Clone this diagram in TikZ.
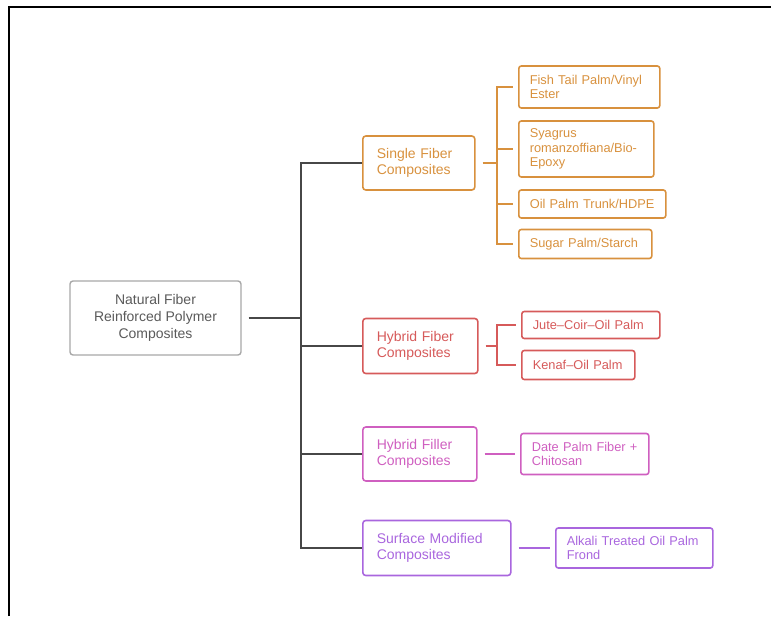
\documentclass[tikz,border=0pt]{standalone}
\usepackage{fontspec}
\setmainfont{Liberation Sans}
\usetikzlibrary{positioning}

\definecolor{sfcol}{HTML}{D8913E}
\definecolor{hfcol}{HTML}{D65A5A}
\definecolor{flcol}{HTML}{CF5FC0}
\definecolor{smcol}{HTML}{A966DE}
\definecolor{rootcol}{HTML}{A8A8A8}
\definecolor{roottxt}{HTML}{5A5A5A}
\definecolor{trunkcol}{HTML}{474747}

\begin{document}
\begin{tikzpicture}[x=1pt, y=-1pt,
      % Node styles
      root box/.style={
          draw=rootcol, text=roottxt, line width=1.4pt, rounded corners=3pt,
          align=center, minimum width=171pt, minimum height=74pt, inner sep=0pt,
          font=\fontsize{14}{17}\selectfont,
        },
      group box/.style={
          draw=#1, text=#1, line width=1.6pt, rounded corners=3pt,
          align=left, anchor=west, inner xsep=14pt, inner ysep=0pt,
          font=\fontsize{14}{16.5}\selectfont,
        },
      leaf box/.style={
          draw=#1, text=#1, line width=1.6pt, rounded corners=2.5pt,
          align=left, anchor=west, inner xsep=11pt, inner ysep=0pt,
          font=\fontsize{12.8}{14.5}\selectfont,
        },
      % Connector styles
      trunk line/.style={draw=trunkcol, line width=1.5pt},
      link/.style={draw=#1, line width=1.5pt, shorten <=7pt, shorten >=5pt},
    ]
    \useasboundingbox (0,0) rectangle (771,616);
    \draw[line width=2pt] (9,616) -- (9,7) -- (771,7);

    % root
    \node[root box] (root) at (155.5,318) {Natural Fiber\\Reinforced Polymer\\Composites};

    % groups
    \node[group box=sfcol, text width=84pt, minimum height=54pt] (sf) at (362,163) {Single Fiber\\Composites};
    \node[group box=hfcol, text width=87pt, minimum height=55pt] (hf) at (362,346) {Hybrid Fiber\\Composites};
    \node[group box=flcol, text width=86pt, minimum height=54pt] (hfl) at (362,454) {Hybrid Filler\\Composites};
    \node[group box=smcol, text width=120pt, minimum height=55pt] (sm) at (362,548) {Surface Modified\\Composites};

    % leaves
    \node[leaf box=sfcol, text width=119pt, minimum height=42pt] (fish) at (518,87) {Fish Tail Palm/Vinyl\\Ester};
    \node[leaf box=sfcol, text width=113pt, minimum height=56pt] (sya) at (518,149) {Syagrus\\romanzoffiana/Bio-\\Epoxy};
    \node[leaf box=sfcol, text width=125pt, minimum height=28pt] (opt) at (518,204) {Oil Palm Trunk/HDPE};
    \node[leaf box=sfcol, text width=111pt, minimum height=29pt] (sugar) at (518,244) {Sugar Palm/Starch};
    \node[leaf box=hfcol, text width=116pt, minimum height=27pt] (jute) at (521,325) {Jute--Coir--Oil Palm};
    \node[leaf box=hfcol, text width=91pt, minimum height=29pt] (kenaf) at (521,365) {Kenaf--Oil Palm};
    \node[leaf box=flcol, text width=106pt, minimum height=41pt] (date) at (520,454) {Date Palm Fiber +\\Chitosan};
    \node[leaf box=smcol, text width=135pt, minimum height=40pt] (alkali) at (555,548) {Alkali Treated Oil Palm\\Frond};

    % trunk
    \coordinate (trunk) at (301,318);
    \draw[link=trunkcol, shorten >=0pt] (root.east) -- (trunk);
    \draw[trunk line] (sf.west) -| (trunk) |- (sm.west);
    \foreach \g in {hf, hfl} {
        \draw[trunk line] (trunk |- \g.west) -- (\g.west);
      }

    % single fiber
    \coordinate (sfj) at (497,163);
    \draw[link=sfcol, shorten >=0pt] (sf.east) -- (sfj);
    \foreach \c in {fish, sya, opt, sugar} {
        \draw[link=sfcol, shorten <=0pt] (sfj) |- (\c.west);
      }

    % hybrid fiber
    \coordinate (hfj) at (497,346);
    \draw[link=hfcol, shorten >=0pt] (hf.east) -- (hfj);
    \foreach \c in {jute, kenaf} {
        \draw[link=hfcol, shorten <=0pt] (hfj) |- (\c.west);
      }

    % filler and surface
    \draw[link=flcol] (hfl.east) -- (date.west);
    \draw[link=smcol] (sm.east) -- (alkali.west);
  \end{tikzpicture}
\end{document}
